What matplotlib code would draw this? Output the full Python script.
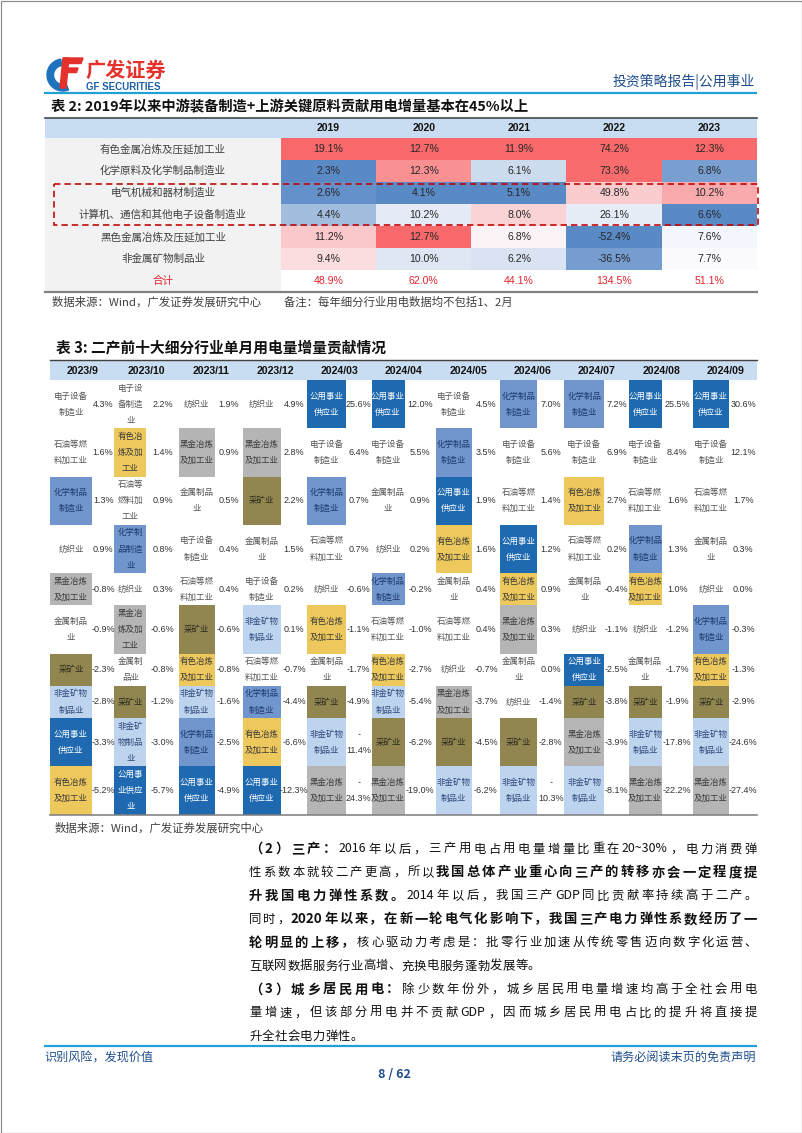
import matplotlib
matplotlib.use('Agg')
import matplotlib.pyplot as plt
import numpy as np
from matplotlib.patches import Rectangle, Wedge, Polygon
from matplotlib.colors import LinearSegmentedColormap, TwoSlopeNorm
from matplotlib.font_manager import FontProperties

CJK = ['Noto Sans CJK SC', 'DejaVu Sans']
LAT = ['Liberation Sans', 'DejaVu Sans']
plt.rcParams['font.family'] = CJK

# ---------------- data ----------------
header_left = '广发证券'
header_left_en = 'GF SECURITIES'
header_right = '投资策略报告|公用事业'

t2_title = '表 2: 2019年以来中游装备制造+上游关键原料贡献用电增量基本在45%以上'
t2_years = ['2019', '2020', '2021', '2022', '2023']
t2_industries = ['有色金属冶炼及压延加工业', '化学原料及化学制品制造业', '电气机械和器材制造业',
                 '计算机、通信和其他电子设备制造业', '黑色金属冶炼及压延加工业', '非金属矿物制品业']
t2_values = [
    [19.1, 12.7, 11.9, 74.2, 12.3],
    [2.3, 12.3, 6.1, 73.3, 6.8],
    [2.6, 4.1, 5.1, 49.8, 10.2],
    [4.4, 10.2, 8.0, 26.1, 6.6],
    [11.2, 12.7, 6.8, -52.4, 7.6],
    [9.4, 10.0, 6.2, -36.5, 7.7],
]
t2_total_label = '合计'
t2_total = [48.9, 62.0, 44.1, 134.5, 51.1]
t2_note = '数据来源：Wind，广发证券发展研究中心　　备注：每年细分行业用电数据均不包括1、2月'

t3_title = '表 3: 二产前十大细分行业单月用电量增量贡献情况'
t3_months = ['2023/9', '2023/10', '2023/11', '2023/12', '2024/03', '2024/04',
             '2024/05', '2024/06', '2024/07', '2024/08', '2024/09']
t3_names = {
    'E': '电子设备制造业', 'P': '石油等燃料加工业', 'C': '化学制品制造业', 'T': '纺织业',
    'B': '黑金冶炼及加工业', 'M': '金属制品业', 'N': '有色冶炼及加工业', 'K': '采矿业',
    'F': '非金矿物制品业', 'U': '公用事业供应业',
}
t3_industries = [
    'EPCTBMKFUN', 'ENPCTBMKFU', 'TBMEPKNFCU', 'TBKMEFPCNU', 'UECPTNMKFB', 'UEMTCPNFKB',
    'ECUNMPTBKF', 'CEPUNBMTKF', 'CENPMTUKBF', 'UEPCNTMKFB', 'UEPMTCNKFB',
]
t3_values = [
    [4.3, 1.6, 1.3, 0.9, -0.8, -0.9, -2.3, -2.8, -3.3, -5.2],
    [2.2, 1.4, 0.9, 0.8, 0.3, -0.6, -0.8, -1.2, -3.0, -5.7],
    [1.9, 0.9, 0.5, 0.4, 0.4, -0.6, -0.8, -1.6, -2.5, -4.9],
    [4.9, 2.8, 2.2, 1.5, 0.2, 0.1, -0.7, -4.4, -6.6, -12.3],
    [25.6, 6.4, 0.7, 0.7, -0.6, -1.1, -1.7, -4.9, -11.4, -24.3],
    [12.0, 5.5, 0.9, 0.2, -0.2, -1.0, -2.7, -5.4, -6.2, -19.0],
    [4.5, 3.5, 1.9, 1.6, 0.4, 0.4, -0.7, -3.7, -4.5, -6.2],
    [7.0, 5.6, 1.4, 1.2, 0.9, 0.3, 0.0, -1.4, -2.8, -10.3],
    [7.2, 6.9, 2.7, 0.2, -0.4, -1.1, -2.5, -3.8, -3.9, -8.1],
    [25.5, 8.4, 1.6, 1.3, 1.0, -1.2, -1.7, -1.9, -17.8, -22.2],
    [30.6, 12.1, 1.7, 0.3, 0.0, -0.3, -1.3, -2.9, -24.6, -27.4],
]
t3_note = '数据来源：Wind，广发证券发展研究中心'

body_lines = [
    [('（2）三产：', True), ('2016年以后，三产用电占用电量增量比重在20~30%，电力消费弹', False)],
    [('性系数本就较二产更高，所以', False), ('我国总体产业重心向三产的转移亦会一定程度提', True)],
    [('升我国电力弹性系数。', True), ('2014年以后，我国三产GDP同比贡献率持续高于二产。', False)],
    [('同时，', False), ('2020年以来，在新一轮电气化影响下，我国三产电力弹性系数经历了一', True)],
    [('轮明显的上移，', True), ('核心驱动力考虑是：批零行业加速从传统零售迈向数字化运营、', False)],
    [('互联网数据服务行业高增、充换电服务蓬勃发展等。', False)],
    [('（3）城乡居民用电：', True), ('除少数年份外，城乡居民用电量增速均高于全社会用电', False)],
    [('量增速，但该部分用电并不贡献GDP，因而城乡居民用电占比的提升将直接提', False)],
    [('升全社会电力弹性。', False)],
]
body_justify = [True, True, True, True, True, False, True, True, False]

footer_left = '识别风险，发现价值'
footer_right = '请务必阅读末页的免责声明'
page_no = '8 / 62'

# ---------------- styles ----------------
PX = 0.72  # px -> pt for linewidths
BLUE_LINE = '#1FA0D8'
DARK_BLUE = '#1F4E8C'
HDR_BG = '#C9DDF2'
t3_fill = {'U': '#1E69AF', 'C': '#7096CD', 'N': '#EDC85C', 'B': '#B5B5B5', 'K': '#918550', 'F': '#BED4EE'}
t3_txt = {'U': 'white', 'C': '#1F3A6E', 'N': '#3A3A3A', 'B': '#3A3A3A', 'K': '#2B2B1F', 'F': '#2F4A7A'}

fig = plt.figure(figsize=(8.02, 11.33), dpi=100)
ax = fig.add_axes([0, 0, 1, 1])
ax.set_xlim(0, 802)
ax.set_ylim(1133, 0)
ax.axis('off')
renderer = fig.canvas.get_renderer()

# page frame
ax.add_patch(Rectangle((0.5, 0.5), 801, 1132, fill=False, ec='#8C8C8C', lw=1.2 * PX, zorder=10))

# ---------------- header ----------------
ax.add_patch(Wedge((63, 75), 16, 70, 262, width=6.5, color='#1E73BE', zorder=3))
ax.add_patch(Polygon([(64, 58), (83, 58), (81, 63.5), (63, 63.5)], color='#E4312B', zorder=4))
ax.add_patch(Polygon([(65, 68), (78, 68), (76.5, 72.5), (64, 72.5)], color='#E4312B', zorder=4))
ax.add_patch(Polygon([(63, 58), (69, 58), (66, 88), (60, 88)], color='#E4312B', zorder=4))
ax.text(85, 70, header_left, fontsize=14.5, fontweight='bold', color='#E4312B', ha='left', va='center')
ax.text(86, 87, header_left_en, fontsize=7, fontweight='bold', color='#1C5FA8', ha='left', va='center',
        family=LAT)
ax.text(755, 82, header_right, fontsize=10, color=DARK_BLUE, ha='right', va='center')
ax.plot([44, 757], [93, 93], color=BLUE_LINE, lw=2.2 * PX, solid_capstyle='butt')

# ---------------- table 2 ----------------
ax.text(51, 107, t2_title, fontsize=10.3, fontweight='bold', color='#111111', ha='left', va='center')
T2X0, T2XL, T2X1 = 45, 281, 757
T2Y0, T2RH = 138, 22
ncol2 = len(t2_years)
cw2 = (T2X1 - T2XL) / ncol2
nrow2 = len(t2_industries)
ax.add_patch(Rectangle((T2X0, 118), T2X1 - T2X0, T2Y0 - 118, color=HDR_BG, lw=0, zorder=1))
ax.add_patch(Rectangle((T2X0, T2Y0), T2XL - T2X0, (nrow2 + 1) * T2RH, color='#F2F2F2', lw=0, zorder=1))
ax.plot([T2X0, T2X1], [117.5, 117.5], color='#404040', lw=1.6 * PX)
ax.plot([T2X0, T2X1], [T2Y0 + (nrow2 + 1) * T2RH, T2Y0 + (nrow2 + 1) * T2RH], color='#808080', lw=2.2 * PX)

cmap = LinearSegmentedColormap.from_list('xl3', ['#5A8AC6', '#FCFCFF', '#F8696B'])
vals2 = np.array(t2_values)
rgba = np.zeros((nrow2, ncol2, 4))
for j in range(ncol2):
    col = vals2[:, j]
    norm = TwoSlopeNorm(vcenter=float(np.median(col)), vmin=float(col.min()), vmax=float(col.max()))
    rgba[:, j] = cmap(norm(col))
ax.imshow(rgba, extent=(T2XL, T2X1, T2Y0 + nrow2 * T2RH, T2Y0), aspect='auto',
          interpolation='nearest', zorder=1)

for j, y in enumerate(t2_years):
    ax.text(T2XL + (j + 0.5) * cw2, 128, y, fontsize=7.5, fontweight='bold', family=LAT,
            ha='center', va='center', color='#111111')
for i, name in enumerate(t2_industries):
    yc = T2Y0 + (i + 0.5) * T2RH
    ax.text(163, yc, name, fontsize=7.6, color='#404040', ha='center', va='center')
    for j in range(ncol2):
        ax.text(T2XL + (j + 0.5) * cw2, yc, f'{t2_values[i][j]:.1f}%', fontsize=7.6, family=LAT,
                ha='center', va='center', color='#262626', zorder=3)
yc = T2Y0 + (nrow2 + 0.5) * T2RH
ax.text(163, yc, t2_total_label, fontsize=7.6, color='#E3242B', ha='center', va='center')
for j in range(ncol2):
    ax.text(T2XL + (j + 0.5) * cw2, yc, f'{t2_total[j]:.1f}%', fontsize=7.6, family=LAT,
            ha='center', va='center', color='#E3242B')
ax.add_patch(Rectangle((53.5, 183.5), 704, 41.5, fill=False, ec='#C00000', lw=1.6 * PX,
                       ls=(0, (4, 2.5)), zorder=5))
ax.text(52, 302, t2_note, fontsize=8.2, color='#404040', ha='left', va='center')

# ---------------- table 3 ----------------
ax.text(56, 347, t3_title, fontsize=10.6, fontweight='bold', color='#111111', ha='left', va='center')
T3X0, T3X1 = 50, 757.3
ncol3 = len(t3_months)
cw3 = (T3X1 - T3X0) / ncol3
cellw = [42, 32, 36, 38, 39, 33, 36, 37, 40, 33, 36]
wrapn = [4, 3, 4, 4, 4, 4, 4, 4, 4, 4, 4]
wrapped_vals = {(8, 4), (9, 4), (9, 7)}
UNIT = 16.1
T3HY0, T3Y0 = 360, 380
nrow3 = len(t3_values[0])


def chunks(s, n):
    return [s[k:k + n] for k in range(0, len(s), n)]


# row heights from wrapped line counts
row_lines = []
for i in range(nrow3):
    m = 1
    for j in range(ncol3):
        m = max(m, len(chunks(t3_names[t3_industries[j][i]], wrapn[j])))
        if (i, j) in wrapped_vals:
            m = max(m, 2)
    row_lines.append(max(m, 2))
row_top = [T3Y0]
for n in row_lines:
    row_top.append(row_top[-1] + n * UNIT)

ax.add_patch(Rectangle((T3X0, T3HY0), T3X1 - T3X0, T3Y0 - T3HY0, color=HDR_BG, lw=0, zorder=1))
ax.plot([T3X0, T3X1], [T3HY0 - 0.5, T3HY0 - 0.5], color='#404040', lw=1.4 * PX)
ax.plot([T3X0, T3X1], [row_top[-1], row_top[-1]], color='#808080', lw=1.6 * PX)
for j, mth in enumerate(t3_months):
    ax.text(T3X0 + j * cw3 + 32.5, 370.5, mth, fontsize=7.6, fontweight='bold', family=LAT,
            ha='center', va='center', color='#111111')

for j in range(ncol3):
    left = T3X0 + j * cw3
    right = left + cellw[j]
    vx = (right + T3X0 + (j + 1) * cw3) / 2
    for i in range(nrow3):
        code = t3_industries[j][i]
        top, bot = row_top[i], row_top[i + 1]
        yc = (top + bot) / 2
        if code in t3_fill:
            ax.add_patch(Rectangle((left, top), cellw[j], bot - top, color=t3_fill[code], lw=0, zorder=1))
            tc = t3_txt[code]
        else:
            tc = '#555555'
        parts = chunks(t3_names[code], wrapn[j])
        n = len(parts)
        for k, p in enumerate(parts):
            ax.text(left + cellw[j] / 2, yc + (k - (n - 1) / 2) * UNIT, p, fontsize=6.1, color=tc,
                    ha='center', va='center', zorder=3)
        v = t3_values[j][i]
        s = f'{v:.1f}%'
        if (i, j) in wrapped_vals:
            ax.text(vx, yc - UNIT / 2, '-', fontsize=6.5, family=LAT, color='#333333',
                    ha='center', va='center', zorder=3)
            ax.text(vx, yc + UNIT / 2, s[1:], fontsize=6.5, family=LAT, color='#333333',
                    ha='center', va='center', zorder=3)
        else:
            ax.text(vx, yc, s, fontsize=6.5, family=LAT, color='#333333',
                    ha='center', va='center', zorder=3)

ax.text(55, 828, t3_note, fontsize=8.2, color='#404040', ha='left', va='center')

# ---------------- body text (justified) ----------------
BX0, BX1 = 249, 757
BY0, BDY = 849, 23.4


def tokens(segs):
    out = []
    for text, bold in segs:
        buf = ''
        for ch in text:
            if ord(ch) < 128:
                buf += ch
            else:
                if buf:
                    out.append((buf, bold))
                    buf = ''
                out.append((ch, bold))
        if buf:
            out.append((buf, bold))
    return out


fp_n = FontProperties(family=CJK, size=8.9)
fp_b = FontProperties(family=CJK, size=9.6, weight='bold')
for li, segs in enumerate(body_lines):
    toks = tokens(segs)
    widths = []
    for t, b in toks:
        w, h, d = renderer.get_text_width_height_descent(t, fp_b if b else fp_n, ismath=False)
        widths.append(w)
    total = sum(widths)
    gap = (BX1 - BX0 - total) / (len(toks) - 1) if body_justify[li] else 0.3
    x = BX0
    y = BY0 + li * BDY
    for (t, b), w in zip(toks, widths):
        ax.text(x, y, t, fontproperties=fp_b if b else fp_n, color='#111111', ha='left', va='center')
        x += w + gap

# ---------------- footer ----------------
ax.plot([44, 757], [1046, 1046], color=BLUE_LINE, lw=2.2 * PX, solid_capstyle='butt')
ax.text(44, 1057, footer_left, fontsize=8.7, color=DARK_BLUE, ha='left', va='center')
ax.text(756, 1057, footer_right, fontsize=8.7, color=DARK_BLUE, ha='right', va='center')
ax.text(394, 1074, page_no, fontsize=9, fontweight='bold', color=DARK_BLUE, ha='center', va='center')

fig.savefig('out.png', dpi=100)
